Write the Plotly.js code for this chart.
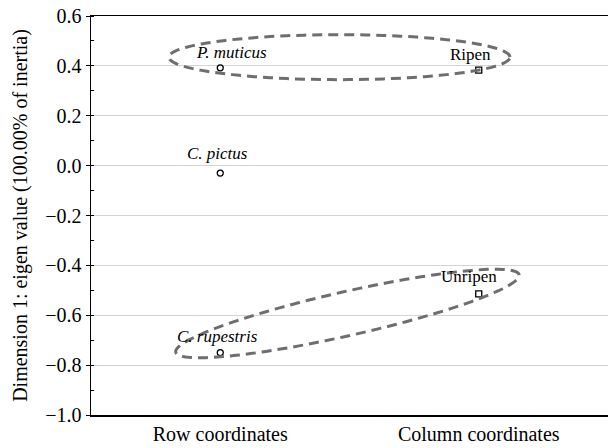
<!DOCTYPE html>
<html>
<head>
<meta charset="utf-8">
<script src="https://cdn.plot.ly/plotly-3.0.1.min.js"></script>
</head>
<body style="margin:0;background:#fff">
<div id="chart" style="width:608px;height:448px"></div>
<script>
// ---- data ----
const categories = ["Row coordinates", "Column coordinates"];
const rowLabels = ["P. muticus", "C. pictus", "C. rupestris"];
const rowValues = [0.392, -0.030, -0.750];
const colLabels = ["Ripen", "Unripen"];
const colValues = [0.383, -0.514];
const yTickVals = [-1.0, -0.8, -0.6, -0.4, -0.2, 0.0, 0.2, 0.4, 0.6];

const FONT = "Liberation Serif";

// ---- layout geometry ----
const W = 608, H = 448;
const M = {l: 91, r: 0, t: 16, b: 33};
const xRange = [-0.5, 1.5], yRange = [-1.0, 0.6];
const pxPerX = (W - M.l - M.r) / (xRange[1] - xRange[0]);
const pxPerY = (H - M.t - M.b) / (yRange[1] - yRange[0]);

// groups encircled by dashed ellipses (center in data units, semi-axes in px, tilt in deg)
function ellipsePath(cx, cy, a, b, deg) {
  const th = deg * Math.PI / 180;
  let d = "";
  const n = 120;
  for (let i = 0; i <= n; i++) {
    const t = 2 * Math.PI * i / n;
    const ux = a * Math.cos(t), uy = b * Math.sin(t);
    const px = ux * Math.cos(th) - uy * Math.sin(th);
    const py = ux * Math.sin(th) + uy * Math.cos(th);
    const x = cx + px / pxPerX, y = cy + py / pxPerY;
    d += (i === 0 ? "M" : "L") + x.toFixed(5) + "," + y.toFixed(5);
  }
  return d + "Z";
}
const ellStyle = {color: "#6e6e6e", width: 3, dash: "10px,6px"};
const shapes = [
  {type: "path", xref: "x", yref: "y", path: ellipsePath(0.461, 0.435, 170.5, 22.5, 0), line: ellStyle},
  {type: "path", xref: "x", yref: "y", path: ellipsePath(0.492, -0.593, 176, 22, 12.7), line: ellStyle}
];

const rowX = rowValues.map(() => 0);
const colX = colValues.map(() => 1);

const traces = [
  {x: rowX, y: rowValues, type: "scatter", mode: "markers", hoverinfo: "skip",
   marker: {symbol: "circle-open", size: 6, color: "#000", line: {width: 1.3, color: "#000"}}},
  {x: colX, y: colValues, type: "scatter", mode: "markers", hoverinfo: "skip",
   marker: {symbol: "square-open", size: 6, color: "#000", line: {width: 1.3, color: "#000"}}}
];

const rowShift = [[11, 15], [-3, 20], [-3, 16]];
const colShift = [[-8, 16], [-10, 17]];
const annotations = [];
rowLabels.forEach((t, i) => annotations.push({
  x: rowX[i], y: rowValues[i], xref: "x", yref: "y", text: "<i>" + t + "</i>", showarrow: false,
  xshift: rowShift[i][0], yshift: rowShift[i][1],
  font: {family: FONT, size: 17, color: "#000"}
}));
colLabels.forEach((t, i) => annotations.push({
  x: colX[i], y: colValues[i], xref: "x", yref: "y", text: t, showarrow: false,
  xshift: colShift[i][0], yshift: colShift[i][1],
  font: {family: FONT, size: 17, color: "#000"}
}));

const layout = {
  width: W, height: H,
  margin: M,
  paper_bgcolor: "#fff", plot_bgcolor: "#fff",
  showlegend: false,
  font: {family: FONT, size: 20, color: "#000"},
  xaxis: {
    type: "linear", range: xRange, tickvals: [0, 1], ticktext: categories,
    showgrid: false, zeroline: false, ticks: "",
    showline: true, mirror: true, linecolor: "#000", linewidth: 1.5,
    tickfont: {family: FONT, size: 20}, fixedrange: true
  },
  yaxis: {
    range: yRange, tickvals: yTickVals, tickformat: ".1f",
    showgrid: true, gridcolor: "#d3d3d3", gridwidth: 1, zeroline: false,
    showline: true, linecolor: "#000", linewidth: 1.5,
    ticks: "outside", ticklen: 4, tickcolor: "#000", tickwidth: 1,
    minor: {ticks: "inside", dtick: 0.1, tick0: 0, ticklen: 3, tickcolor: "#000", showgrid: false},
    tickfont: {family: FONT, size: 20},
    title: {text: "Dimension 1: eigen value (100.00% of inertia)", font: {family: FONT, size: 20}, standoff: 12},
    fixedrange: true
  },
  shapes: shapes,
  annotations: annotations
};

Plotly.newPlot("chart", traces, layout, {displayModeBar: false, staticPlot: true});
</script>
</body>
</html>
